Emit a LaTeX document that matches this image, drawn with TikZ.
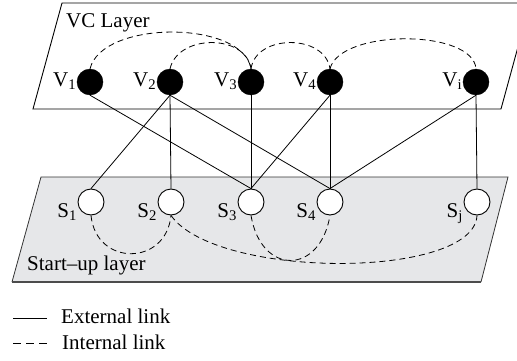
\documentclass[tikz,border=0pt]{standalone}
\usepackage{fontspec}
\setmainfont{Liberation Serif}
\definecolor{layergray}{RGB}{230,231,233}
\tikzset{
  vnode/.style={circle,draw=black,fill=black,minimum size=26pt,inner sep=0pt},
  snode/.style={circle,draw=black,fill=white,minimum size=26pt,inner sep=0pt,line width=0.9pt},
  vlab/.style={anchor=base east,inner sep=0.5pt,yshift=-4pt},
  slab/.style={anchor=base east,inner sep=0.5pt,yshift=-15pt},
  extlink/.style={line width=0.8pt},
  intlink/.style={line width=0.8pt,dash pattern=on 6pt off 4pt},
  txt/.style={inner sep=0pt,anchor=base west}
}
\begin{document}
\begin{tikzpicture}[x=1pt,y=1pt,font=\fontsize{21}{24}\selectfont]
\clip (0,0) rectangle (517,360);
\draw[line width=0.9pt] (62,357) -- (33,251) -- (501,251) -- (530,357) -- cycle;
\fill[layergray] (41,183) -- (12,78) -- (481,78) -- (508,183) -- cycle;
\draw[line width=0.8pt,black!80] (12,78) -- (41,183) -- (508,183) -- (481,78);
\draw[line width=1.6pt,black!70] (12,78) -- (481,78);
\node[txt] (vclayer) at (66,333) {VC Layer};
\node[txt] (sulayer) at (27,90) {Start--up layer};

\node[vnode,label={[vlab]west:V\textsubscript{1}}] (v1) at (90,278) {};
\node[vnode,label={[vlab]west:V\textsubscript{2}}] (v2) at (170,278) {};
\node[vnode,label={[vlab]west:V\textsubscript{3}}] (v3) at (251,278) {};
\node[vnode,label={[vlab]west:V\textsubscript{4}}] (v4) at (330,278) {};
\node[vnode,label={[vlab]west:V\textsubscript{i}}] (vi) at (476,278) {};

\node[snode,label={[slab]west:S\textsubscript{1}}] (s1) at (91,158) {};
\node[snode,label={[slab]west:S\textsubscript{2}}] (s2) at (171,158) {};
\node[snode,label={[slab]west:S\textsubscript{3}}] (s3) at (251,158) {};
\node[snode,label={[slab]west:S\textsubscript{4}}] (s4) at (330,158) {};
\node[snode,label={[slab]west:S\textsubscript{j}}] (sj) at (477,158) {};

\draw[extlink] (v1.south) -- (s3.north);
\draw[extlink] (v2.south) -- (s1.north);
\draw[extlink] (v2.south) -- (s2.north);
\draw[extlink] (v2.south) -- (s4.north);
\draw[extlink] (v3.south) -- (s3.north);
\draw[extlink] (v4.south) -- (s3.north);
\draw[extlink] (v4.south) -- (s4.north);
\draw[extlink] (vi.south) -- (s4.north);
\draw[extlink] (vi.south) -- (sj.north);

\draw[intlink] (v1.north) .. controls +(12,49) and +(-8,49) .. (v3.north);
\draw[intlink] (v2.north) .. controls +(8,35) and +(-5,35) .. (v3.north);
\draw[intlink] (v3.north) .. controls +(5,35) and +(-5,35) .. (v4.north);
\draw[intlink] (v4.north) .. controls +(10,40) and +(-3,40) .. (vi.north);

\draw[intlink] (s1.south) .. controls +(5,-51) and +(-5,-51) .. (s2.south);
\draw[intlink] (s3.south) .. controls +(10,-60) and +(-10,-60) .. (s4.south);
\draw[intlink] (s2.south) .. controls +(45,-64) and +(-3,-64) .. (sj.south);

\coordinate (exta) at (13,42);
\coordinate (extb) at (47,42);
\coordinate (inta) at (13,17);
\coordinate (intb) at (47,17);
\draw[extlink] (exta) -- (extb);
\draw[line width=0.8pt,dash pattern=on 8pt off 5pt] (inta) -- (intb);
\node[txt] (extlabel) at (61,37) {External link};
\node[txt] (intlabel) at (62,11) {Internal link};
\end{tikzpicture}
\end{document}
